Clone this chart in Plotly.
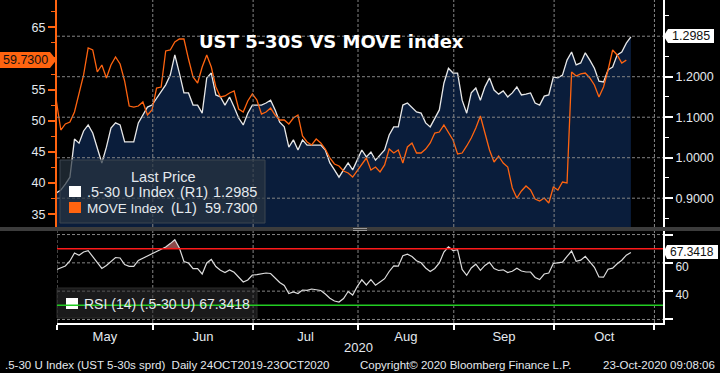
import plotly.graph_objects as go
import pandas as pd
import numpy as np

# ---------------- data (trading days, 30-Apr-2020 .. 23-Oct-2020) ----------------
dates = pd.bdate_range("2020-04-30", "2020-10-23") + pd.Timedelta(hours=20)

spread_5s30s = [
    0.913, 0.920, 0.935, 0.952, 1.046, 1.036, 1.066, 1.081, 1.061, 1.026,
    0.987, 1.026, 1.073, 1.086, 1.081, 1.039, 1.039, 1.039, 1.086, 1.105,
    1.125, 1.130, 1.147, 1.162, 1.180, 1.204, 1.254, 1.209, 1.160, 1.160,
    1.130, 1.130, 1.110, 1.197, 1.209, 1.155, 1.150, 1.130, 1.150, 1.125,
    1.098, 1.081, 1.110, 1.130, 1.130, 1.130, 1.135, 1.142, 1.118, 1.088,
    1.076, 1.026, 1.044, 1.019, 1.044, 1.031, 1.031, 1.031, 1.031, 1.019,
    0.987, 0.970, 0.952, 0.970, 0.987, 0.970, 0.994, 1.019, 1.002, 1.014,
    0.994, 1.007, 1.019, 1.056, 1.076, 1.076, 1.130, 1.135, 1.125, 1.113,
    1.110, 1.086, 1.076, 1.098, 1.118, 1.184, 1.221, 1.209, 1.209, 1.142,
    1.110, 1.160, 1.172, 1.142, 1.175, 1.197, 1.167, 1.157, 1.165, 1.150,
    1.160, 1.175, 1.155, 1.157, 1.160, 1.135, 1.130, 1.152, 1.155, 1.199,
    1.197, 1.204, 1.241, 1.261, 1.229, 1.234, 1.259, 1.241, 1.221, 1.189,
    1.187, 1.217, 1.224, 1.254, 1.261, 1.283, 1.2985,
]

move_index = [
    53.34, 48.52, 49.49, 49.81, 51.41, 54.62, 57.35, 61.68, 61.36, 57.83,
    58.95, 56.87, 58.95, 60.24, 59.11, 56.38, 52.37, 52.21, 52.37, 53.02,
    50.93, 51.73, 55.26, 55.42, 61.20, 61.36, 62.64, 63.12, 63.12, 59.91,
    57.03, 56.06, 58.63, 60.56, 58.63, 55.42, 53.82, 53.98, 54.46, 54.78,
    51.89, 51.41, 53.18, 54.30, 53.34, 51.09, 51.41, 52.05, 50.93, 50.13,
    50.13, 49.49, 50.45, 50.93, 47.56, 46.60, 46.12, 47.08, 46.44, 45.47,
    44.03, 43.07, 42.75, 41.95, 41.62, 40.98, 41.95, 43.07, 44.03, 42.11,
    42.59, 41.79, 42.91, 45.47, 44.83, 45.31, 43.23, 45.80, 46.44, 44.83,
    44.83, 45.47, 46.44, 48.04, 48.20, 49.33, 48.20, 46.92, 44.67, 44.83,
    45.96, 47.24, 48.84, 50.77, 48.04, 45.31, 43.39, 44.35, 43.23, 42.59,
    39.22, 37.61, 38.74, 39.54, 38.90, 37.45, 37.13, 37.61, 36.81, 39.38,
    38.90, 40.18, 40.02, 57.83, 57.19, 57.51, 57.67, 56.87, 55.74, 53.82,
    55.42, 58.15, 61.36, 60.56, 59.27, 59.73,
]

rsi_14 = [
    55.16, 56.36, 57.77, 61.31, 66.96, 65.34, 67.67, 68.59, 64.13, 59.89,
    56.01, 58.13, 61.31, 63.78, 63.43, 58.83, 57.56, 57.56, 61.66, 63.22,
    64.84, 66.40, 68.02, 69.65, 71.20, 73.60, 76.36, 70.49, 60.95, 59.89,
    55.87, 55.87, 52.12, 59.89, 62.37, 57.42, 54.73, 53.18, 54.95, 53.32,
    49.65, 46.47, 47.88, 51.41, 51.63, 51.98, 52.83, 52.47, 48.94, 46.11,
    43.99, 38.34, 39.40, 38.34, 40.81, 40.60, 41.52, 41.02, 40.46, 37.99,
    35.02, 33.04, 32.33, 34.81, 39.75, 37.28, 43.29, 48.02, 44.35, 48.09,
    44.21, 46.47, 48.80, 53.89, 57.92, 57.63, 65.05, 66.18, 64.49, 61.52,
    60.04, 56.36, 53.82, 56.01, 59.89, 67.67, 71.34, 68.73, 69.29, 55.37,
    51.20, 56.36, 59.05, 54.73, 58.20, 60.39, 56.01, 54.59, 55.09, 53.18,
    54.03, 56.22, 54.24, 53.53, 53.53, 49.65, 48.16, 52.12, 52.76, 59.54,
    60.18, 60.46, 64.49, 68.37, 61.10, 61.87, 64.56, 60.88, 56.86, 50.00,
    49.86, 55.51, 56.29, 59.40, 61.87, 65.41, 67.3418,
]

month_starts = ["2020-05-01", "2020-06-01", "2020-07-01", "2020-08-03",
                "2020-09-01", "2020-10-01", "2020-11-02"]
month_mid = ["2020-05-15 12:00", "2020-06-16 00:00", "2020-07-16 12:00",
             "2020-08-17 12:00", "2020-09-16 00:00", "2020-10-16 00:00"]
month_labels = ["May", "Jun", "Jul", "Aug", "Sep", "Oct"]

right_ticks = [0.9, 1.0, 1.1, 1.2]
right_minor = [0.85, 0.95, 1.05, 1.15, 1.25, 1.35]
right_grid = [0.9, 1.0, 1.1, 1.2, 1.3]
left_ticks = [35, 40, 45, 50, 55, 60, 65]
left_ticktext = ["35", "40", "45", "50", "55", "", "65"]   # 60 hidden under last-value tag
left_minor = [37.5, 42.5, 47.5, 52.5, 57.5, 62.5, 67.5]
rsi_ticks = [20, 40, 60, 80]
rsi_ticktext = ["", "40", "60", ""]
rsi_over, rsi_under = 70, 30

last_spread = "1.2985"
last_move = "59.7300"
last_rsi = "67.3418"

# ---------------- styling / geometry ----------------
W, H = 720, 373
ML, MR, MT, MB = 57, 57, 0, 50
PW, PH = W - ML - MR, H - MT - MB

def px(x):
    return (x - ML) / PW

def py(y):
    return (PH - (y - MT)) / PH

MAIN = [py(227), 1.0]
RSIP = [0.0, py(231)]

ORANGE = "#ff6410"
NAVY = "#0a1d3b"
TXT = "#e4e9ee"
GRIDC = "#858585"
FONT = "Liberation Sans, Arial, sans-serif"
XR = ["2020-05-01 00:00", "2020-11-03 21:00"]
RB = [dict(bounds=["sat", "mon"])]

fig = go.Figure()

fig.add_trace(go.Scatter(x=dates, y=spread_5s30s, xaxis="x", yaxis="y", mode="lines",
                         fill="tozeroy", fillcolor=NAVY,
                         line=dict(color="#e8e8e8", width=1.3), hoverinfo="skip"))
fig.add_trace(go.Scatter(x=dates[:len(move_index)], y=move_index, xaxis="x", yaxis="y2",
                         mode="lines", line=dict(color=ORANGE, width=1.3), hoverinfo="skip"))

rsi_arr = np.array(rsi_14)
fig.add_trace(go.Scatter(x=dates, y=[rsi_over] * len(rsi_14), xaxis="x2", yaxis="y3",
                         mode="lines", line=dict(width=0, color="rgba(0,0,0,0)"),
                         hoverinfo="skip"))
fig.add_trace(go.Scatter(x=dates, y=np.maximum(rsi_arr, rsi_over), xaxis="x2", yaxis="y3",
                         mode="lines", fill="tonexty", fillcolor="#8c4a4a",
                         line=dict(width=0, color="rgba(0,0,0,0)"), hoverinfo="skip"))
fig.add_trace(go.Scatter(x=dates, y=rsi_14, xaxis="x2", yaxis="y3", mode="lines",
                         line=dict(color="#dcdcdc", width=1.2), hoverinfo="skip"))

tickfont = dict(family=FONT, size=12.5, color=TXT)

fig.update_layout(
    width=W, height=H, margin=dict(l=ML, r=MR, t=MT, b=MB),
    paper_bgcolor="black", plot_bgcolor="black", showlegend=False,
    xaxis=dict(domain=[0, 1], anchor="y", range=XR, rangebreaks=RB,
               showticklabels=False, ticks="", showgrid=False, zeroline=False,
               showline=False),
    xaxis2=dict(domain=[0, 1], anchor="y3", range=XR, rangebreaks=RB,
                tickmode="array", tickvals=month_mid, ticktext=month_labels, ticks="",
                showgrid=False, zeroline=False, showline=True, linecolor="white",
                linewidth=2, tickfont=dict(family=FONT, size=13, color=TXT),
                minor=dict(tickmode="array", tickvals=month_starts, ticks="outside",
                           ticklen=5, tickwidth=1.5, tickcolor="white", showgrid=False)),
    yaxis=dict(domain=MAIN, anchor="x", side="right", range=[0.8289, 1.3894],
               tickmode="array", tickvals=right_ticks, tickformat=".4f",
               ticks="outside", ticklen=8, tickwidth=2, tickcolor="white",
               showline=True, linecolor="white", linewidth=2, showgrid=False,
               zeroline=False, tickfont=tickfont,
               minor=dict(tickmode="array", tickvals=right_minor, ticks="outside",
                          ticklen=4, tickwidth=1, tickcolor="white", showgrid=False)),
    yaxis2=dict(overlaying="y", anchor="x", side="left", range=[32.96, 69.38],
                tickmode="array", tickvals=left_ticks, ticktext=left_ticktext,
                ticks="outside", ticklen=7,
                tickwidth=2, tickcolor=ORANGE, showline=True, linecolor=ORANGE,
                linewidth=2, showgrid=False, zeroline=False, tickfont=tickfont,
                minor=dict(tickmode="array", tickvals=left_minor, ticks="outside",
                           ticklen=4, tickwidth=1, tickcolor=ORANGE, showgrid=False)),
    yaxis3=dict(domain=RSIP, anchor="x2", side="right", range=[17.5, 82.5],
                tickmode="array", tickvals=rsi_ticks, ticktext=rsi_ticktext,
                ticks="outside", ticklen=8, tickwidth=2, tickcolor="white",
                showline=True, linecolor="white", linewidth=2, showgrid=False,
                zeroline=False, tickfont=dict(family=FONT, size=12, color=TXT),
                ticklabelshift=4),
)

GRID = dict(color=GRIDC, width=1, dash="3px,2px")
shapes = []
for v in right_grid:
    shapes.append(dict(type="line", xref="paper", x0=0, x1=1, yref="y", y0=v, y1=v,
                       line=GRID, layer="above"))
for d in month_starts[1:]:
    shapes.append(dict(type="line", xref="x", x0=d, x1=d, yref="paper",
                       y0=MAIN[0], y1=MAIN[1], line=GRID, layer="above"))
for v in rsi_ticks:
    shapes.append(dict(type="line", xref="paper", x0=0, x1=1, yref="y3", y0=v, y1=v,
                       line=GRID, layer="below"))
for d in month_starts:
    shapes.append(dict(type="line", xref="x2", x0=d, x1=d, yref="paper",
                       y0=RSIP[0], y1=RSIP[1], line=GRID, layer="below"))

def rect(x0, y0, x1, y1, fill, line=None, lw=0):
    return dict(type="rect", xref="paper", yref="paper", x0=px(x0), x1=px(x1),
                y0=py(y1), y1=py(y0), fillcolor=fill,
                line=dict(color=line or fill, width=lw), layer="above")

def tri(pts, fill):
    p = "M " + " L ".join(f"{px(a)},{py(b)}" for a, b in pts) + " Z"
    return dict(type="path", xref="paper", yref="paper", path=p, fillcolor=fill,
                line=dict(color=fill, width=0), layer="above")

# separator between panels
shapes.append(rect(0, 227, 720, 231, "#3c3c3c"))
shapes.append(rect(353, 228, 367, 229, "#9a9a9a"))
shapes.append(rect(353, 230, 367, 231, "#9a9a9a"))

# legend boxes
shapes.append(rect(60, 160, 265, 223, "rgba(40,52,66,0.7)", "#3d4651", 1))
shapes.append(rect(69, 186, 81, 197, "white"))
shapes.append(rect(69, 202, 81, 213, ORANGE))
shapes.append(rect(57, 288, 257, 318, "rgba(48,48,50,0.55)", "#2c2c2c", 1))
shapes.append(rect(66, 298, 78, 309, "white"))

# RSI bands
shapes.append(dict(type="line", xref="paper", x0=0, x1=1, yref="y3", y0=rsi_over,
                   y1=rsi_over, line=dict(color="#ff1a1a", width=1.5), layer="above"))
shapes.append(dict(type="line", xref="paper", x0=0, x1=1, yref="y3", y0=rsi_under,
                   y1=rsi_under, line=dict(color="#22cc22", width=1.5), layer="above"))

# last value tags
shapes.append(rect(0, 52, 50, 68, ORANGE))
shapes.append(tri([(50, 52), (56.5, 60), (50, 68)], ORANGE))
shapes.append(rect(668, 29, 714, 43, "white"))
shapes.append(tri([(668, 29), (663.5, 36), (668, 43)], "white"))
shapes.append(rect(667, 245, 718, 259, "white"))
shapes.append(tri([(667, 245), (663.5, 252), (667, 259)], "white"))

fig.update_layout(shapes=shapes)

def note(text, x, y, xa="left", size=14, color=TXT, family=FONT, bold=False):
    if bold:
        text = "<b>" + text + "</b>"
    return dict(text=text, xref="paper", yref="paper", x=px(x), y=py(y),
                xanchor=xa, yanchor="middle", showarrow=False,
                font=dict(family=family, size=size, color=color))

NB = "\u00a0"
anns = [
    note("UST 5-30S VS MOVE index", 331, 42, "center", 18, "white",
         "DejaVu Sans, sans-serif", True),
    note("Last Price", 163, 177, "center", 14.5),
    note(".5-30 U Index", 85, 192, "left", 14.5),
    note("(R1)", 178, 192, "left", 14.5),
    note(last_spread, 259, 192, "right", 14.5),
    note("MOVE Index", 85, 208, "left", 13.5),
    note("(L1)", 169, 208, "left", 14.5),
    note(last_move, 259, 208, "right", 14.5),
    note("RSI (14) (.5-30 U) " + last_rsi, 82, 304, "left", 14),
    note(last_move, 25, 60, "center", 12.5, "#111111"),
    note(last_spread, 691, 36, "center", 12.5, "#111111"),
    note(last_rsi, 692.5, 252, "center", 12, "#111111"),
    note("2020", 358, 347, "center", 13),
    note(".5-30 U Index (UST 5-30s sprd)" + NB + NB + "Daily 24OCT2019-23OCT2020",
         3, 365, "left", 11.5),
    note("Copyright\u00a9 2020 Bloomberg Finance L.P.", 358, 365, "left", 11.5),
    note("23-Oct-2020 09:08:06", 717, 365, "right", 11.5),
]
fig.update_layout(annotations=anns)

fig.write_html("out.html", config={"displayModeBar": False},
               post_script="document.body.style.margin='0';document.body.style.overflow='hidden';")
